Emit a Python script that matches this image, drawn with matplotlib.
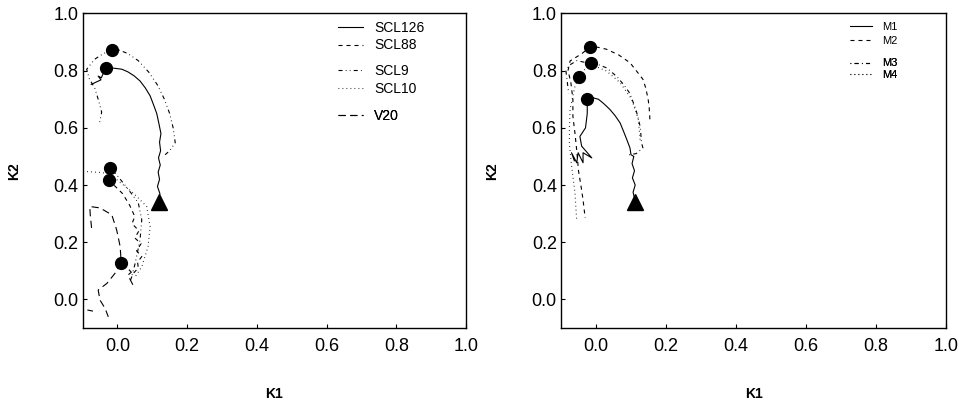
import numpy as np
import matplotlib
matplotlib.use("Agg")
import matplotlib.pyplot as plt

plt.rcParams['font.family'] = ['Liberation Sans', 'DejaVu Sans']

nan = np.nan

# ---- left panel data (K1, K2) ----
scl126_x = [0.118, 0.122, 0.115, 0.121, 0.117, 0.123, 0.118, 0.124, 0.121, 0.125, 0.120, 0.113,
            0.104, 0.094, 0.080, 0.065, 0.048, 0.030, 0.013, -0.005, -0.020, -0.034,
            -0.040, -0.046, -0.055, -0.047, -0.075]
scl126_y = [0.345, 0.370, 0.395, 0.420, 0.445, 0.470, 0.495, 0.520, 0.550, 0.580, 0.610, 0.650,
            0.680, 0.712, 0.740, 0.764, 0.782, 0.796, 0.805, 0.808, 0.810, 0.810,
            0.792, 0.775, 0.781, 0.768, 0.752]

scl88_x = [-0.025, -0.010, 0.015, 0.035, 0.050, 0.042, 0.062, 0.050, 0.068, 0.055, 0.070,
           0.058, 0.060, 0.045, 0.035]
scl88_y = [0.419, 0.400, 0.370, 0.330, 0.290, 0.265, 0.240, 0.215, 0.195, 0.170, 0.150,
           0.130, 0.110, 0.090, 0.060]

scl9_x = [0.137, 0.150, 0.166, 0.160, 0.150, 0.135, 0.115, 0.090, 0.060, 0.030, 0.005, -0.016,
          -0.040, -0.065, -0.088, -0.080, -0.065, -0.055, -0.045, -0.052, nan,
          -0.021, -0.002, 0.032, 0.060, 0.070, 0.065, 0.051, 0.041]
scl9_y = [0.506, 0.520, 0.548, 0.600, 0.650, 0.700, 0.750, 0.795, 0.835, 0.860, 0.872, 0.871,
          0.860, 0.840, 0.805, 0.770, 0.740, 0.700, 0.655, 0.612, nan,
          0.460, 0.436, 0.384, 0.338, 0.278, 0.208, 0.126, 0.079]

scl10_x = [-0.098, -0.050, -0.021, -0.002, 0.046, 0.084, 0.094, 0.088, 0.070, 0.051]
scl10_y = [0.448, 0.444, 0.440, 0.419, 0.372, 0.325, 0.255, 0.185, 0.114, 0.079]

v20_x = [-0.074, -0.078, -0.079, -0.050, -0.016, -0.002, 0.008, 0.011, 0.025, 0.040, 0.030,
         0.045, nan, 0.011, -0.007, -0.030, -0.055,
         -0.050, -0.035, -0.026, nan, -0.086, -0.070]
v20_y = [0.250, 0.300, 0.325, 0.320, 0.296, 0.243, 0.185, 0.128, 0.115, 0.095, 0.085,
         0.050, nan, 0.128, 0.091, 0.056, 0.033,
         -0.002, -0.032, -0.061, nan, -0.037, -0.041]

left_end_x = [-0.034, -0.016, -0.021, -0.025, 0.011]
left_end_y = [0.810, 0.871, 0.460, 0.419, 0.128]
left_start = (0.118, 0.340)

# ---- right panel data ----
m1_x = [0.111, 0.106, 0.112, 0.104, 0.110, 0.103, 0.108, 0.100, 0.097, 0.088, 0.078, 0.069,
        0.055, 0.040, 0.022, 0.007, -0.008, -0.025, -0.025, -0.030, -0.046, -0.041, -0.012,
        -0.037, -0.037, -0.051, -0.055, -0.070, -0.062]
m1_y = [0.348, 0.375, 0.400, 0.425, 0.450, 0.475, 0.500, 0.506, 0.530, 0.559, 0.590, 0.617,
        0.642, 0.664, 0.685, 0.700, 0.705, 0.700, 0.650, 0.600, 0.570, 0.536, 0.495,
        0.513, 0.478, 0.513, 0.478, 0.513, 0.485]

m2_x = [0.154, 0.152, 0.149, 0.142, 0.134, 0.115, 0.097, 0.065, 0.030, 0.005, -0.017,
        -0.040, -0.074, -0.080, -0.072, -0.066, -0.066, -0.060, -0.055, -0.050, -0.042, -0.037, -0.031]
m2_y = [0.630, 0.670, 0.700, 0.740, 0.770, 0.800, 0.828, 0.855, 0.875, 0.882, 0.883,
        0.860, 0.834, 0.800, 0.760, 0.700, 0.640, 0.580, 0.520, 0.450, 0.390, 0.348, 0.285]

m3_x = [0.095, 0.115, 0.134, 0.130, 0.128, 0.126, 0.115, 0.097, 0.080, 0.059, 0.030, 0.005, -0.014,
        -0.035, -0.055, -0.075, -0.086, -0.082, -0.078]
m3_y = [0.506, 0.510, 0.530, 0.548, 0.580, 0.606, 0.660, 0.720, 0.750, 0.780, 0.810, 0.822, 0.826,
        0.830, 0.835, 0.820, 0.800, 0.760, 0.720]

m4_x = [0.126, 0.121, 0.102, 0.069, 0.030, -0.003, -0.025, -0.048, -0.060, -0.074, -0.076,
        -0.076, -0.070, -0.060, -0.055]
m4_y = [0.559, 0.630, 0.700, 0.758, 0.799, 0.816, 0.816, 0.779, 0.746, 0.664, 0.600,
        0.544, 0.470, 0.372, 0.272]

right_end_x = [-0.025, -0.017, -0.014, -0.048]
right_end_y = [0.700, 0.883, 0.826, 0.779]
right_start = (0.111, 0.340)

ticks = [0.0, 0.2, 0.4, 0.6, 0.8, 1.0]

# line styles
SOLID = '-'
SHORT_DASH = (0, (3.6, 3.6))
LONG_DASH = (0, (6.5, 4.0))
DASH_DOT_DOT = (0, (3.6, 2.9, 0.7, 2.9, 0.7, 2.9))
DOTTED = (0, (0.7, 2.9))
DASH_DOT = (0, (0.7, 3.0, 3.6, 3.0))
LW = 0.8

fig = plt.figure(figsize=(9.59, 4.11), dpi=100)
W, H = 959.0, 411.0
ax1 = fig.add_axes([82.5 / W, 1 - 328 / H, 383.5 / W, 314.5 / H])
ax2 = fig.add_axes([561 / W, 1 - 328 / H, 385 / W, 314.5 / H])


def style_axis(ax):
    ax.set_xlim(-0.1, 1.0)
    ax.set_ylim(-0.1, 1.0)
    ax.set_xticks(ticks)
    ax.set_yticks(ticks)
    ax.set_xticklabels(['%.1f' % t for t in ticks])
    ax.set_yticklabels(['%.1f' % t for t in ticks])
    ax.tick_params(direction='in', length=3, width=0.8, labelsize=13, top=False, right=False)
    ax.tick_params(axis='x', pad=7)
    ax.tick_params(axis='y', pad=3)
    for s in ax.spines.values():
        s.set_linewidth(1.0)
    ax.set_xlabel('K1', fontsize=10, fontweight='bold')
    ax.set_ylabel('K2', fontsize=10, fontweight='bold')
    ax.xaxis.set_label_coords(0.5, -0.188)
    ax.yaxis.set_label_coords(-0.160, 0.5)


def legend_group(ax, handles, labels, x, y, size, hl, htp, spacing):
    leg = ax.legend(handles, labels, loc='center left', bbox_to_anchor=(x, y),
                    frameon=False, borderpad=0, borderaxespad=0, fontsize=size,
                    handlelength=hl, handletextpad=htp, labelspacing=spacing)
    ax.add_artist(leg)


# left panel
h126, = ax1.plot(scl126_x, scl126_y, color='black', lw=LW, linestyle=SOLID)
h88, = ax1.plot(scl88_x, scl88_y, color='black', lw=LW, linestyle=SHORT_DASH)
h9, = ax1.plot(scl9_x, scl9_y, color='black', lw=LW, linestyle=DASH_DOT_DOT)
h10, = ax1.plot(scl10_x, scl10_y, color='black', lw=LW, linestyle=DOTTED)
hv20, = ax1.plot(v20_x, v20_y, color='black', lw=LW, linestyle=LONG_DASH)
ax1.plot(left_end_x, left_end_y, 'o', color='black', markersize=8.5, zorder=5)
ax1.plot([left_start[0]], [left_start[1]], '^', color='black', markersize=12, zorder=5)
style_axis(ax1)

ax_y = lambda py: (328 - py) / 314.5
lx = (338 - 82.5) / 383.5
legend_group(ax1, [h126, h88], ['SCL126', 'SCL88'], lx, ax_y(36.75), 10, 1.8, 0.8, 0.25)
legend_group(ax1, [h9, h10], ['SCL9', 'SCL10'], lx, ax_y(80), 10, 1.8, 0.8, 0.25)
legend_group(ax1, [hv20], ['V20'], lx, ax_y(116), 10, 1.8, 0.8, 0.25)

# right panel
hm1, = ax2.plot(m1_x, m1_y, color='black', lw=LW, linestyle=SOLID)
hm2, = ax2.plot(m2_x, m2_y, color='black', lw=LW, linestyle=SHORT_DASH)
hm3, = ax2.plot(m3_x, m3_y, color='black', lw=LW, linestyle=DASH_DOT)
hm4, = ax2.plot(m4_x, m4_y, color='black', lw=LW, linestyle=DOTTED)
ax2.plot(right_end_x, right_end_y, 'o', color='black', markersize=8.5, zorder=5)
ax2.plot([right_start[0]], [right_start[1]], '^', color='black', markersize=12, zorder=5)
style_axis(ax2)

rx = (850 - 561) / 385.0
legend_group(ax2, [hm1, hm2], ['M1', 'M2'], rx, ax_y(33.9), 8, 2.0, 0.9, 0.35)
legend_group(ax2, [hm3, hm4], ['M3', 'M4'], rx, ax_y(69), 8, 2.0, 0.9, 0.1)

fig.savefig('out.png', dpi=100)
